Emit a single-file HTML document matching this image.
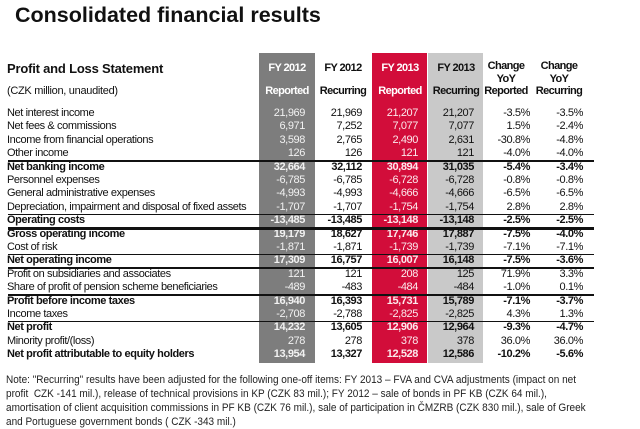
<!DOCTYPE html>
<html><head><meta charset="utf-8"><style>
body{margin:0;width:640px;height:428px;background:#fff;font-family:"Liberation Sans",sans-serif;position:relative;overflow:hidden;color:#111}
.a{position:absolute;white-space:nowrap}
#tbl .a{letter-spacing:-0.4px}
#tbl .h{letter-spacing:-0.6px}
.col{position:absolute;top:53px;height:310px}
.hl{position:absolute;left:8px;width:586px;background:#111}
</style></head><body>
<div class="a" style="left:15px;top:3px;font-size:21.5px;font-weight:bold;">Consolidated financial results</div>
<div class="col" style="left:259px;width:56px;background:#7d7d7d"></div>
<div class="col" style="left:372px;width:55px;background:#d20d3a"></div>
<div class="col" style="left:428px;width:55px;background:#c9c9c9"></div>
<div class="a" style="left:7px;top:61px;font-size:13px;font-weight:bold;letter-spacing:-0.2px">Profit and Loss Statement</div>
<div class="a" style="left:7px;top:85px;font-size:11px;letter-spacing:-0.3px">(CZK million, unaudited)</div>
<div id="tbl"></div>
<div class="a" style="left:6px;top:373px;font-size:11px;line-height:14px;color:#222;transform:scaleX(0.91);transform-origin:left top">Note: "Recurring" results have been adjusted for the following one-off items: FY 2013 – FVA and CVA adjustments (impact on net<br>profit&nbsp; CZK -141 mil.), release of technical provisions in KP (CZK 83 mil.); FY 2012 – sale of bonds in PF KB (CZK 64 mil.),<br>amortisation of client acquisition commissions in PF KB (CZK 76 mil.), sale of participation in ČMZRB (CZK 830 mil.), sale of Greek<br>and Portuguese government bonds ( CZK -343 mil.)</div>
<script>
const headers1=["FY 2012","FY 2012","FY 2013","FY 2013","Change","Change"];
const headers2=["Reported","Recurring","Reported","Recurring","Reported","Recurring"];
const labels=["Net interest income","Net fees & commissions","Income from financial operations","Other income","Net banking income","Personnel expenses","General administrative expenses","Depreciation, impairment and disposal of fixed assets","Operating costs","Gross operating income","Cost of risk","Net operating income","Profit on subsidiaries and associates","Share of profit of pension scheme beneficiaries","Profit before income taxes","Income taxes","Net profit","Minority profit/(loss)","Net profit attributable to equity holders"];
const fy12rep=["21,969","6,971","3,598","126","32,664","-6,785","-4,993","-1,707","-13,485","19,179","-1,871","17,309","121","-489","16,940","-2,708","14,232","278","13,954"];
const fy12rec=["21,969","7,252","2,765","126","32,112","-6,785","-4,993","-1,707","-13,485","18,627","-1,871","16,757","121","-483","16,393","-2,788","13,605","278","13,327"];
const fy13rep=["21,207","7,077","2,490","121","30,894","-6,728","-4,666","-1,754","-13,148","17,746","-1,739","16,007","208","-484","15,731","-2,825","12,906","378","12,528"];
const fy13rec=["21,207","7,077","2,631","121","31,035","-6,728","-4,666","-1,754","-13,148","17,887","-1,739","16,148","125","-484","15,789","-2,825","12,964","378","12,586"];
const chgRep=["-3.5%","1.5%","-30.8%","-4.0%","-5.4%","-0.8%","-6.5%","2.8%","-2.5%","-7.5%","-7.1%","-7.5%","71.9%","-1.0%","-7.1%","4.3%","-9.3%","36.0%","-10.2%"];
const chgRec=["-3.5%","-2.4%","-4.8%","-4.0%","-3.4%","-0.8%","-6.5%","2.8%","-2.5%","-4.0%","-7.1%","-3.6%","3.3%","0.1%","-3.7%","1.3%","-4.7%","36.0%","-5.6%"];
const boldRows=[4,8,9,11,14,16,18];
const lineAfter=[3,7,8,10,11,13,15];
const tbl=document.getElementById('tbl');
const rowY=i=>107+13.4*i;
const colRight=[305,362,418,474,530,583];
const colCenter=[287,343,400,456,506,559];
const colColor=["#f2f2f2","#111","#fbe9ec","#111","#111","#111"];
const series=[fy12rep,fy12rec,fy13rep,fy13rec,chgRep,chgRec];
function mk(txt,style){const d=document.createElement('div');d.className='a';d.textContent=txt;d.style.cssText=style;tbl.appendChild(d);return d;}
for(let c=0;c<6;c++){
  const cx=colCenter[c];
  const h1=mk(headers1[c],`left:${cx-40}px;width:80px;text-align:center;top:${c<4?62:60}px;font-size:11px;font-weight:bold;color:${c==0||c==2?'#fff':'#111'}`);
  h1.classList.add('h');
  
  
  if(c>=4){const y=mk('YoY',`left:${cx-40}px;width:80px;text-align:center;top:73px;font-size:11px;font-weight:bold`);
    y.classList.add('h');
    
    }
  const h2=mk(headers2[c],`left:${cx-40}px;width:80px;text-align:center;top:85px;font-size:11px;font-weight:bold;color:${c==0||c==2?'#fff':'#111'}`);
  h2.classList.add('h');
  
  
}
for(let i=0;i<labels.length;i++){
  const b=boldRows.includes(i)?'bold':'normal';
  const l=mk(labels[i],`left:7px;top:${rowY(i)}px;font-size:11px;font-weight:${b}`);
  
  
  for(let c=0;c<6;c++){
    const v=mk(series[c][i],`left:${colRight[c]-70}px;width:70px;text-align:right;top:${rowY(i)}px;font-size:11px;font-weight:${b};color:${colColor[c]}`);
    
    
  }
}
for(const i of lineAfter){
  const d=document.createElement('div');d.className='hl';
  d.style.top=(rowY(i+1)-0.5)+'px';d.style.height=(i==8?2.5:1.5)+'px';
  
  
  tbl.appendChild(d);
}
</script>
</body></html>
